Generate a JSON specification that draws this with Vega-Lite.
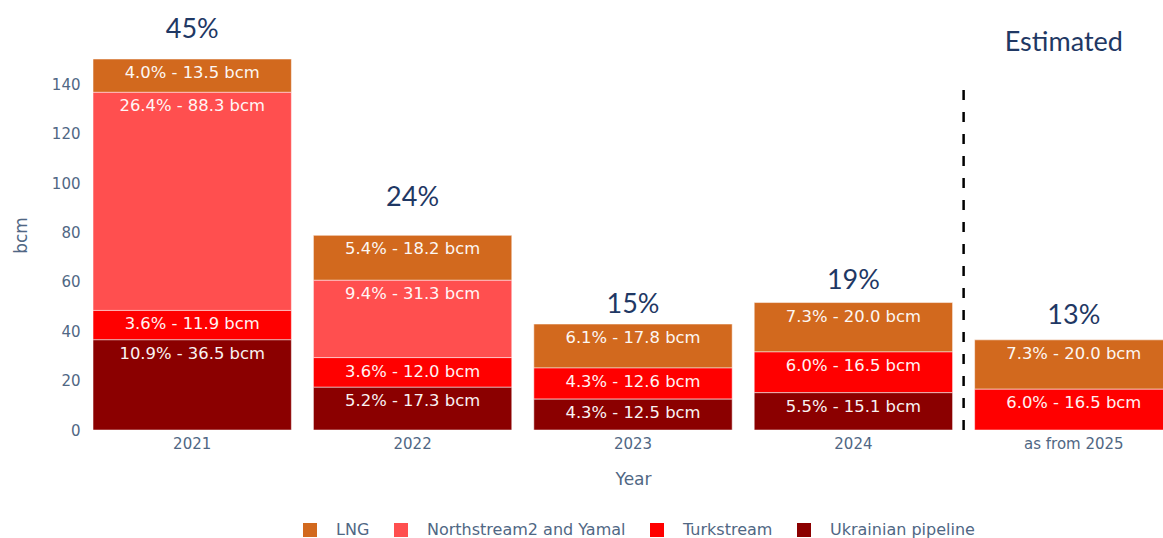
{
  "$schema": "https://vega.github.io/schema/vega-lite/v6.json",
  "width": 1081,
  "height": 390,
  "autosize": {"type": "none"},
  "padding": {"left": 82, "top": 40, "right": 0, "bottom": 108},
  "background": "white",
  "config": {
    "view": {"stroke": null},
    "axis": {
      "grid": false,
      "domain": false,
      "ticks": false,
      "tickSize": 0,
      "labelFont": "DejaVu Sans",
      "labelFontSize": 15,
      "labelColor": "#506784",
      "titleFont": "DejaVu Sans",
      "titleFontSize": 17,
      "titleFontWeight": "normal",
      "titleColor": "#506784"
    }
  },
  "datasets": {
    "flows": [
      {"year": "2021", "route": "LNG", "value": 13.5, "rank": 4, "label": "4.0% - 13.5 bcm"},
      {"year": "2021", "route": "Northstream2 and Yamal", "value": 88.3, "rank": 3, "label": "26.4% - 88.3 bcm"},
      {"year": "2021", "route": "Turkstream", "value": 11.9, "rank": 2, "label": "3.6% - 11.9 bcm"},
      {"year": "2021", "route": "Ukrainian pipeline", "value": 36.5, "rank": 1, "label": "10.9% - 36.5 bcm"},
      {"year": "2022", "route": "LNG", "value": 18.2, "rank": 4, "label": "5.4% - 18.2 bcm"},
      {"year": "2022", "route": "Northstream2 and Yamal", "value": 31.3, "rank": 3, "label": "9.4% - 31.3 bcm"},
      {"year": "2022", "route": "Turkstream", "value": 12.0, "rank": 2, "label": "3.6% - 12.0 bcm"},
      {"year": "2022", "route": "Ukrainian pipeline", "value": 17.3, "rank": 1, "label": "5.2% - 17.3 bcm"},
      {"year": "2023", "route": "LNG", "value": 17.8, "rank": 4, "label": "6.1% - 17.8 bcm"},
      {"year": "2023", "route": "Turkstream", "value": 12.6, "rank": 2, "label": "4.3% - 12.6 bcm"},
      {"year": "2023", "route": "Ukrainian pipeline", "value": 12.5, "rank": 1, "label": "4.3% - 12.5 bcm"},
      {"year": "2024", "route": "LNG", "value": 20.0, "rank": 4, "label": "7.3% - 20.0 bcm"},
      {"year": "2024", "route": "Turkstream", "value": 16.5, "rank": 2, "label": "6.0% - 16.5 bcm"},
      {"year": "2024", "route": "Ukrainian pipeline", "value": 15.1, "rank": 1, "label": "5.5% - 15.1 bcm"},
      {"year": "as from 2025", "route": "LNG", "value": 20.0, "rank": 4, "label": "7.3% - 20.0 bcm"},
      {"year": "as from 2025", "route": "Turkstream", "value": 16.5, "rank": 2, "label": "6.0% - 16.5 bcm"}
    ],
    "annotations": [
      {"year": "2021", "y": 162, "label": "45%"},
      {"year": "2022", "y": 94, "label": "24%"},
      {"year": "2023", "y": 50.5, "label": "15%"},
      {"year": "2024", "y": 60.5, "label": "19%"},
      {"year": "as from 2025", "y": 46, "label": "13%"}
    ],
    "notes": [
      {"year": "as from 2025", "y": 156.7, "label": "Estimated"}
    ]
  },
  "layer": [
    {
      "data": {"name": "flows"},
      "transform": [
        {"stack": "value", "groupby": ["year"], "sort": [{"field": "rank", "order": "ascending"}], "as": ["y0", "y1"]}
      ],
      "mark": {"type": "bar", "stroke": "#ffffff", "strokeWidth": 1, "strokeOpacity": 0.5},
      "encoding": {
        "x": {
          "field": "year",
          "type": "nominal",
          "title": "Year",
          "sort": ["2021", "2022", "2023", "2024", "as from 2025"],
          "scale": {"paddingInner": 0.1, "paddingOuter": 0.05, "range": [0, 1102]},
          "axis": {"labelAngle": 0, "labelPadding": 6, "titlePadding": 20}
        },
        "y": {
          "field": "y0",
          "type": "quantitative",
          "title": "bcm",
          "scale": {"domain": [0, 157.9], "nice": false},
          "axis": {"values": [0, 20, 40, 60, 80, 100, 120, 140], "labelPadding": 2, "titlePadding": 21}
        },
        "y2": {"field": "y1"},
        "color": {
          "field": "route",
          "type": "nominal",
          "scale": {
            "domain": ["LNG", "Northstream2 and Yamal", "Turkstream", "Ukrainian pipeline"],
            "range": ["#D2691E", "#FF4F4F", "#FF0000", "#8B0000"]
          },
          "legend": {
            "title": null,
            "orient": "none",
            "legendX": 220,
            "legendY": 482,
            "direction": "horizontal",
            "symbolType": "square",
            "symbolSize": 196,
            "symbolStrokeWidth": 0,
            "symbolOpacity": 1,
            "labelFont": "DejaVu Sans",
            "labelFontSize": 16,
            "labelColor": "#506784",
            "labelOffset": 18,
            "columnPadding": 23,
            "padding": 0,
            "labelLimit": 400
          }
        }
      }
    },
    {
      "data": {"name": "flows"},
      "transform": [
        {"stack": "value", "groupby": ["year"], "sort": [{"field": "rank", "order": "ascending"}], "as": ["y0", "y1"]}
      ],
      "mark": {"type": "text", "dy": 14, "baseline": "middle", "align": "center", "font": "DejaVu Sans", "fontSize": 16.4, "color": "#ffffff", "opacity": 0.95},
      "encoding": {
        "x": {"field": "year", "type": "nominal", "title": "Year"},
        "y": {"field": "y1", "type": "quantitative", "title": "bcm"},
        "text": {"field": "label"}
      }
    },
    {
      "data": {"name": "annotations"},
      "mark": {"type": "text", "baseline": "middle", "align": "center", "font": "Lato", "fontSize": 27, "color": "#1f3864"},
      "encoding": {
        "x": {"field": "year", "type": "nominal", "title": "Year"},
        "y": {"field": "y", "type": "quantitative", "title": "bcm"},
        "text": {"field": "label"}
      }
    },
    {
      "data": {"name": "notes"},
      "mark": {"type": "text", "baseline": "middle", "align": "center", "dx": -10, "font": "Lato", "fontSize": 27, "color": "#1f3864"},
      "encoding": {
        "x": {"field": "year", "type": "nominal", "title": "Year"},
        "y": {"field": "y", "type": "quantitative", "title": "bcm"},
        "text": {"field": "label"}
      }
    },
    {
      "data": {"values": [{"divider": "estimate"}]},
      "mark": {"type": "rule", "color": "#000000", "strokeWidth": 2.5, "strokeDash": [10, 12]},
      "encoding": {
        "x": {"datum": "as from 2025", "type": "nominal", "bandPosition": -0.0555, "title": "Year"},
        "y": {"datum": 0, "type": "quantitative", "title": "bcm"},
        "y2": {"datum": 138.5}
      }
    }
  ]
}
